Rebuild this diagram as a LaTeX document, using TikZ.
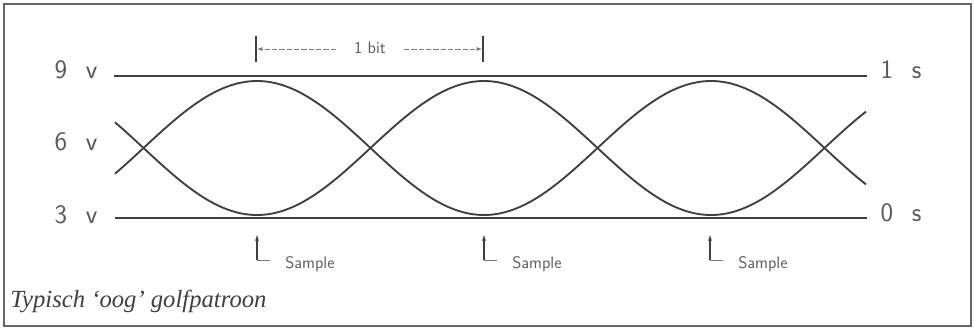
\documentclass[tikz,border=0pt]{standalone}
\usepackage{fontspec}
\setmainfont{Liberation Serif}
\usetikzlibrary{arrows.meta}
\definecolor{ink}{HTML}{404040}
\definecolor{lbl}{HTML}{5a5a5a}
\tikzset{
  level/.style={line width=1.6pt, draw=ink},
  wave/.style={line width=1.4pt, draw=ink, smooth},
  bigl/.style={font=\sffamily\fontsize{20}{20}\selectfont, text=lbl, inner sep=0pt},
  smalll/.style={font=\sffamily\fontsize{12.5}{12.5}\selectfont, text=lbl, inner sep=0pt},
  bar/.style={line width=1pt, draw=ink},
  dimline/.style={line width=0.6pt, draw=ink!70, dash pattern=on 4pt off 1.5pt, -{Latex[length=4pt,width=3pt]}},
  samp/.style={line width=0.9pt, draw=ink, -{Latex[length=5pt,width=3pt]}},
  sampfoot/.style={line width=0.6pt, draw=ink!70},
}
\begin{document}
\begin{tikzpicture}[x=0.75pt,y=-0.75pt]
\useasboundingbox (0,0) rectangle (974,330);
\fill[white] (0,0) rectangle (974,330);
\draw[line width=1.5pt, draw=ink!80] (4,4) rectangle (971,326);

% level labels
\node[bigl] (nine) at (76,70) {9\hspace{0.7em}v};
\node[bigl] (six) at (76,142) {6\hspace{0.7em}v};
\node[bigl] (three) at (76,215) {3\hspace{0.7em}v};
\node[bigl] (one) at (901,70) {1\hspace{0.7em}s};
\node[bigl] (zero) at (901,213) {0\hspace{0.7em}s};

% level lines
\coordinate (topL) at (114,76);
\coordinate (topR) at (867,76);
\coordinate (botL) at (115,218);
\coordinate (botR) at (867,218);
\draw[level] (topL) -- (topR);
\draw[level] (botL) -- (botR);

% eye curves
\draw[wave, domain=115:866, samples=160] plot (\x, {148 - 67*cos((\x-257)/227*180)});
\draw[wave, domain=115:866, samples=160] plot (\x, {148 + 67*cos((\x-257)/227*180)});

% 1 bit dimension
\coordinate (b1t) at (256,36);
\coordinate (b1b) at (256,62);
\coordinate (b2t) at (483,36);
\coordinate (b2b) at (483,62);
\draw[bar] (b1t) -- (b1b);
\draw[bar] (b2t) -- (b2b);
\node[smalll, font=\sffamily\fontsize{12.5}{12.5}\selectfont] (bit) at (370,48) {1 bit};
\coordinate (bl) at (257,49);
\coordinate (br) at (482,49);
\coordinate (dl) at (336,49);
\coordinate (dr) at (404,49);
\draw[dimline] (dl) -- (bl);
\draw[dimline] (dr) -- (br);

% sample markers
\foreach \n/\sx in {s1/257, s2/484, s3/710} {
  \coordinate (\n b) at (\sx,260);
  \coordinate (\n t) at (\sx,234);
  \coordinate (\n f) at (\sx+13,260);
  \draw[samp] (\n b) -- (\n t);
  \draw[sampfoot] (\n b) -- (\n f);
  \node[smalll, anchor=west] (\n lab) at (\sx+28,264) {Sample};
}

% caption
\node[font=\itshape\fontsize{18.5}{18.5}\selectfont, text=ink, anchor=west, inner sep=0pt] (cap) at (10,301) {Typisch ‘oog’ golfpatroon};
\end{tikzpicture}
\end{document}
